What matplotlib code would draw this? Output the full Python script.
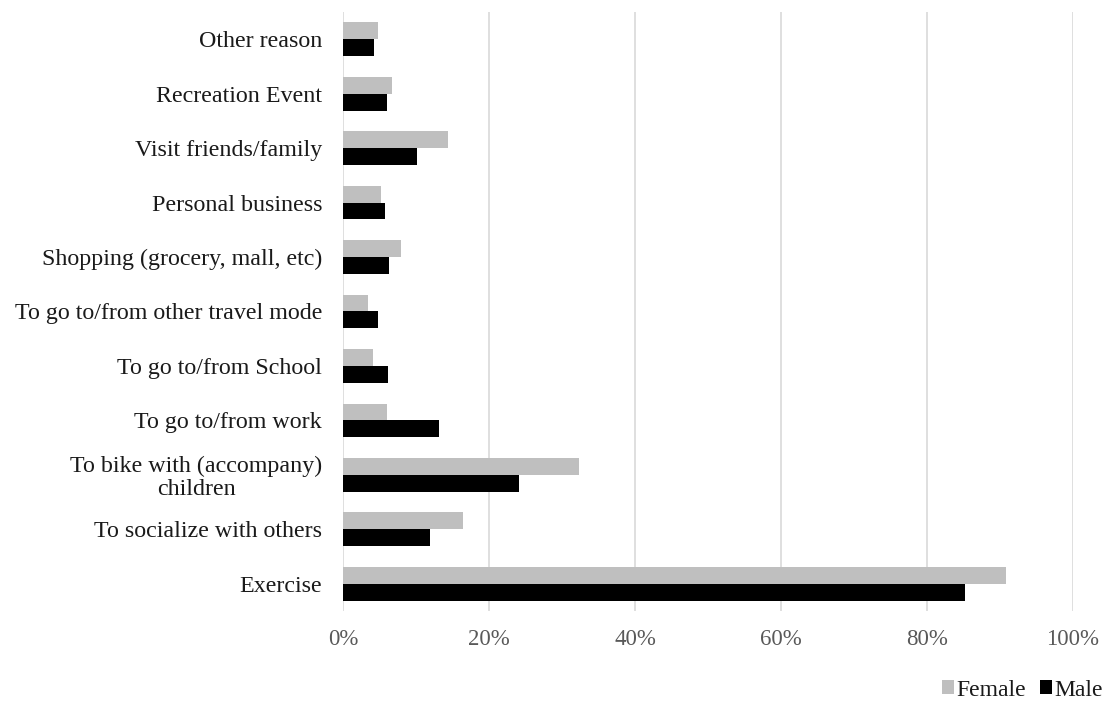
import matplotlib.pyplot as plt
import matplotlib.ticker as ticker
import numpy as np

plt.rcParams["font.family"] = ["Liberation Serif", "DejaVu Serif"]

# veriler (üstten alta)
kategoriler = [
    "Other reason",
    "Recreation Event",
    "Visit friends/family",
    "Personal business",
    "Shopping (grocery, mall, etc)",
    "To go to/from other travel mode",
    "To go to/from School",
    "To go to/from work",
    "To bike with (accompany)\nchildren",
    "To socialize with others",
    "Exercise",
]
kadin = [4.75, 6.7, 14.4, 5.2, 7.9, 3.5, 4.1, 6.0, 32.3, 16.5, 90.8]
erkek = [4.25, 6.1, 10.2, 5.8, 6.3, 4.75, 6.2, 13.2, 24.1, 11.9, 85.2]

fig = plt.figure(figsize=(11.17, 7.02), dpi=100)
ax = fig.add_axes([0.307, 0.1296, 0.6536, 0.8534])

y = np.arange(len(kategoriler))
h = 0.31
ax.barh(y - h / 2, kadin, height=h, color="#bfbfbf", label="Female", zorder=3)
ax.barh(y + h / 2, erkek, height=h, color="#000000", label="Male", zorder=3)

ax.set_ylim(len(kategoriler) - 0.5, -0.5)
ax.set_xlim(0, 100)
ax.set_xticks(range(0, 101, 20))
ax.xaxis.set_major_formatter(ticker.FuncFormatter(lambda x, _: f"{int(x)}%"))
ax.set_yticks(y)
ax.set_yticklabels(kategoriler, fontsize=17.3, color="#1a1a1a", linespacing=1.12,
                   multialignment="center")
ax.tick_params(axis="x", labelsize=16.5, colors="#595959", length=0, pad=13)
ax.tick_params(axis="y", length=0, pad=15)
ax.grid(axis="x", color="#d9d9d9", linewidth=1.2, zorder=0)
for s in ax.spines.values():
    s.set_visible(False)

ax.legend(loc="lower right", bbox_to_anchor=(1.07, -0.185), ncol=2, frameon=False,
          fontsize=17, handlelength=0.5, handleheight=0.5, handletextpad=0.1,
          columnspacing=0.6, labelcolor="#1a1a1a")

fig.savefig("out.png", dpi=100)
